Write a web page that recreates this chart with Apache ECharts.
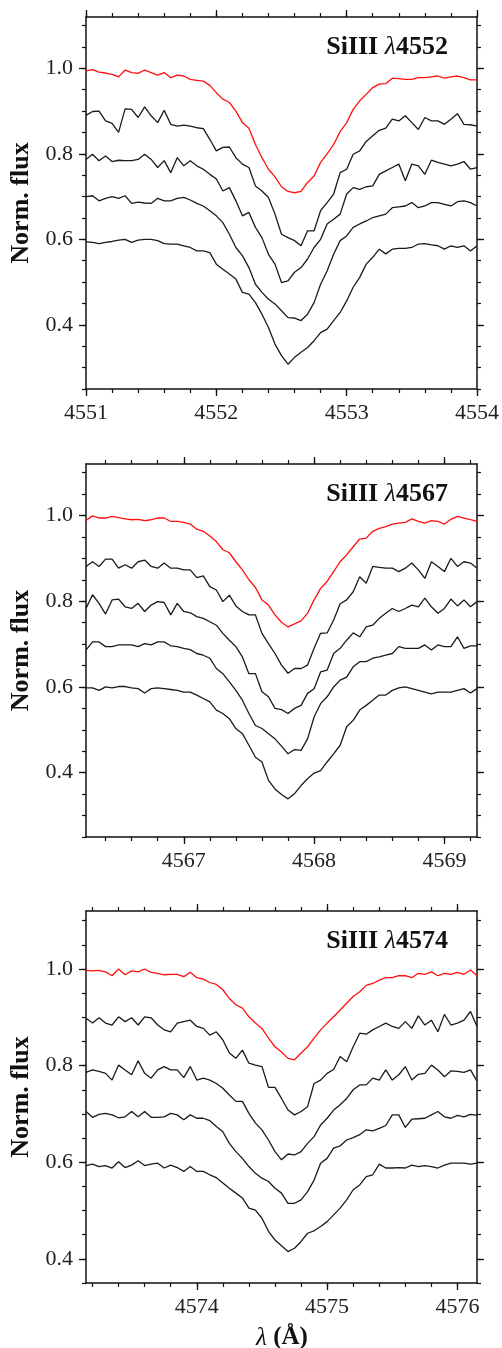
<!DOCTYPE html>
<html>
<head>
<meta charset="utf-8">
<script src="https://cdn.jsdelivr.net/npm/echarts@6/dist/echarts.min.js"></script>
<style>html,body{margin:0;padding:0;background:#fff}#c{width:502px;height:1348px}</style>
</head>
<body>
<div id="c"></div>
<script>
// ---- wavelength sampling (start, step) per panel ----
const lamStart1 = 4551.00, lamStart2 = 4566.25, lamStart3 = 4573.15, lamStep = 0.05;
const xRange1 = [4551.0, 4554.0], xRange2 = [4566.25, 4569.25], xRange3 = [4573.15, 4576.15];
const yRange1 = [0.25, 1.12], yRange2 = [0.25, 1.12], yRange3 = [0.35, 1.12];
const xTicks1 = [4551, 4552, 4553, 4554];
const xTicks2 = [4567, 4568, 4569];
const xTicks3 = [4574, 4575, 4576];
const yTicks = [0.4, 0.6, 0.8, 1.0];
const titles = ['4552', '4567', '4574'];

// ---- Panel 1: SiIII 4552 ----
const p1Red = [0.994,0.997,0.991,0.989,0.986,0.98,0.996,0.99,0.988,0.996,
  0.99,0.984,0.99,0.978,0.984,0.982,0.974,0.972,0.97,0.96,
  0.943,0.928,0.92,0.90,0.873,0.86,0.822,0.791,0.764,0.746,
  0.723,0.712,0.709,0.712,0.733,0.748,0.78,0.80,0.822,0.852,
  0.873,0.904,0.924,0.939,0.955,0.963,0.964,0.977,0.976,0.974,
  0.974,0.978,0.978,0.98,0.982,0.977,0.98,0.982,0.978,0.973,0.973];
const p1B1 = [0.89,0.899,0.90,0.877,0.871,0.85,0.905,0.904,0.885,0.91,
  0.889,0.873,0.902,0.869,0.865,0.867,0.865,0.861,0.859,0.834,
  0.807,0.815,0.816,0.791,0.776,0.768,0.725,0.713,0.698,0.659,
  0.612,0.604,0.597,0.585,0.62,0.62,0.667,0.686,0.706,0.756,
  0.764,0.799,0.807,0.829,0.842,0.855,0.86,0.881,0.877,0.889,
  0.873,0.857,0.885,0.877,0.877,0.869,0.881,0.894,0.869,0.868,0.865];
const p1B2 = [0.787,0.799,0.784,0.795,0.782,0.785,0.784,0.784,0.787,0.799,
  0.787,0.768,0.784,0.756,0.791,0.772,0.784,0.772,0.764,0.752,
  0.741,0.713,0.721,0.69,0.655,0.663,0.628,0.604,0.565,0.542,
  0.499,0.503,0.523,0.534,0.554,0.581,0.60,0.636,0.647,0.659,
  0.706,0.721,0.717,0.723,0.725,0.752,0.76,0.768,0.776,0.737,
  0.776,0.772,0.752,0.785,0.78,0.776,0.772,0.776,0.782,0.764,0.768];
const p1B3 = [0.70,0.702,0.69,0.696,0.70,0.696,0.702,0.684,0.687,0.685,
  0.684,0.696,0.69,0.69,0.696,0.698,0.692,0.684,0.678,0.667,
  0.655,0.639,0.612,0.581,0.562,0.534,0.495,0.476,0.46,0.449,
  0.433,0.417,0.416,0.41,0.425,0.452,0.495,0.526,0.565,0.597,
  0.608,0.628,0.636,0.643,0.651,0.655,0.659,0.674,0.676,0.678,
  0.686,0.674,0.678,0.686,0.686,0.682,0.678,0.688,0.69,0.686,0.678];
const p1B4 = [0.594,0.593,0.59,0.593,0.595,0.598,0.60,0.593,0.598,0.60,
  0.60,0.597,0.59,0.589,0.589,0.585,0.581,0.573,0.573,0.569,
  0.542,0.53,0.519,0.507,0.476,0.472,0.452,0.425,0.394,0.355,
  0.328,0.308,0.324,0.336,0.347,0.363,0.382,0.39,0.41,0.429,
  0.456,0.488,0.511,0.542,0.558,0.577,0.566,0.577,0.579,0.579,
  0.581,0.589,0.59,0.587,0.585,0.577,0.585,0.581,0.585,0.573,0.585];

// ---- Panel 2: SiIII 4567 ----
const p2Red = [0.988,0.999,0.994,0.994,0.998,0.995,0.992,0.99,0.991,0.988,
  0.99,0.994,0.994,0.986,0.986,0.984,0.98,0.968,0.963,0.952,
  0.939,0.92,0.913,0.892,0.873,0.85,0.832,0.803,0.791,0.768,
  0.751,0.74,0.747,0.754,0.772,0.803,0.83,0.846,0.869,0.892,
  0.908,0.927,0.945,0.947,0.963,0.97,0.974,0.98,0.982,0.984,
  0.992,0.986,0.982,0.988,0.986,0.98,0.991,0.998,0.994,0.99,0.986];
const p2B1 = [0.881,0.892,0.881,0.898,0.898,0.877,0.885,0.877,0.892,0.896,
  0.881,0.877,0.889,0.877,0.877,0.873,0.873,0.855,0.859,0.834,
  0.826,0.799,0.814,0.789,0.776,0.768,0.768,0.725,0.701,0.678,
  0.651,0.632,0.643,0.643,0.651,0.69,0.725,0.726,0.756,0.794,
  0.803,0.822,0.857,0.842,0.881,0.879,0.877,0.877,0.869,0.877,
  0.889,0.873,0.853,0.892,0.881,0.869,0.90,0.881,0.892,0.889,0.877];
const p2B2 = [0.783,0.815,0.795,0.77,0.803,0.805,0.787,0.783,0.795,0.776,
  0.791,0.799,0.797,0.768,0.795,0.776,0.773,0.764,0.76,0.752,
  0.744,0.725,0.709,0.694,0.67,0.631,0.631,0.589,0.577,0.55,
  0.547,0.538,0.55,0.557,0.585,0.596,0.635,0.639,0.678,0.69,
  0.709,0.726,0.717,0.74,0.744,0.76,0.772,0.783,0.776,0.783,
  0.791,0.787,0.807,0.787,0.772,0.783,0.805,0.789,0.803,0.787,0.799];
const p2B3 = [0.686,0.705,0.705,0.694,0.694,0.698,0.698,0.698,0.694,0.701,
  0.698,0.705,0.705,0.696,0.694,0.69,0.687,0.678,0.674,0.667,
  0.643,0.631,0.612,0.592,0.569,0.538,0.51,0.503,0.491,0.479,
  0.462,0.444,0.454,0.452,0.479,0.53,0.561,0.577,0.60,0.616,
  0.623,0.647,0.659,0.659,0.667,0.67,0.674,0.678,0.694,0.69,
  0.69,0.69,0.698,0.686,0.698,0.694,0.694,0.717,0.69,0.696,0.696];
const p2B4 = [0.598,0.598,0.592,0.60,0.598,0.601,0.601,0.598,0.596,0.586,
  0.596,0.598,0.596,0.594,0.592,0.588,0.588,0.581,0.573,0.565,
  0.546,0.538,0.526,0.503,0.491,0.464,0.436,0.425,0.382,0.362,
  0.349,0.339,0.351,0.37,0.386,0.399,0.405,0.425,0.444,0.464,
  0.507,0.522,0.546,0.557,0.569,0.581,0.581,0.592,0.598,0.60,
  0.596,0.592,0.588,0.584,0.588,0.588,0.588,0.592,0.596,0.586,0.596];

// ---- Panel 3: SiIII 4574 ----
const p3Red = [0.997,0.996,0.997,0.994,0.986,1.0,0.988,0.996,0.994,1.0,
  0.993,0.991,0.988,0.989,0.989,0.984,0.993,0.982,0.979,0.972,
  0.968,0.957,0.939,0.926,0.919,0.901,0.888,0.877,0.857,0.839,
  0.828,0.815,0.812,0.826,0.839,0.857,0.874,0.888,0.901,0.915,
  0.929,0.943,0.953,0.966,0.97,0.977,0.982,0.982,0.986,0.986,
  0.982,0.991,0.989,0.994,0.986,0.991,0.989,0.993,0.989,0.998,0.986];
const p3B1 = [0.898,0.888,0.899,0.888,0.884,0.901,0.891,0.899,0.884,0.901,
  0.899,0.884,0.874,0.87,0.888,0.891,0.894,0.881,0.877,0.863,
  0.87,0.853,0.826,0.815,0.832,0.805,0.801,0.798,0.755,0.755,
  0.732,0.708,0.698,0.705,0.715,0.763,0.77,0.784,0.792,0.819,
  0.808,0.839,0.867,0.865,0.874,0.881,0.888,0.881,0.877,0.891,
  0.877,0.903,0.884,0.894,0.87,0.906,0.884,0.888,0.894,0.912,0.881];
const p3B2 = [0.786,0.791,0.788,0.784,0.77,0.801,0.791,0.781,0.81,0.784,
  0.774,0.791,0.798,0.791,0.791,0.775,0.798,0.77,0.774,0.77,
  0.763,0.753,0.739,0.726,0.726,0.701,0.681,0.667,0.646,0.622,
  0.605,0.617,0.615,0.622,0.639,0.653,0.677,0.691,0.708,0.719,
  0.732,0.75,0.76,0.76,0.774,0.77,0.791,0.77,0.781,0.798,
  0.77,0.782,0.784,0.801,0.791,0.777,0.789,0.788,0.786,0.791,0.768];
const p3B3 = [0.705,0.693,0.699,0.701,0.698,0.692,0.694,0.705,0.694,0.705,
  0.693,0.693,0.694,0.701,0.698,0.688,0.698,0.691,0.691,0.686,
  0.674,0.663,0.639,0.622,0.608,0.591,0.577,0.567,0.56,0.546,
  0.536,0.515,0.515,0.522,0.539,0.563,0.598,0.608,0.629,0.634,
  0.646,0.651,0.657,0.667,0.665,0.67,0.676,0.698,0.698,0.672,
  0.689,0.69,0.691,0.698,0.705,0.694,0.691,0.697,0.694,0.699,0.697];
const p3B4 = [0.593,0.596,0.591,0.593,0.588,0.601,0.589,0.594,0.603,0.593,
  0.596,0.598,0.588,0.594,0.589,0.581,0.591,0.581,0.581,0.574,
  0.568,0.557,0.546,0.536,0.526,0.505,0.501,0.484,0.457,0.439,
  0.427,0.415,0.422,0.436,0.453,0.458,0.467,0.477,0.491,0.505,
  0.522,0.543,0.553,0.57,0.574,0.596,0.588,0.588,0.589,0.588,
  0.594,0.591,0.593,0.591,0.588,0.594,0.598,0.598,0.598,0.596,0.598];

// ---------------- build chart ----------------
const panels = [
  {start: lamStart1, xr: xRange1, yr: yRange1, xt: xTicks1, series: [p1Red, p1B1, p1B2, p1B3, p1B4], top: 17, height: 372},
  {start: lamStart2, xr: xRange2, yr: yRange2, xt: xTicks2, series: [p2Red, p2B1, p2B2, p2B3, p2B4], top: 464, height: 373},
  {start: lamStart3, xr: xRange3, yr: yRange3, xt: xTicks3, series: [p3Red, p3B1, p3B2, p3B3, p3B4], top: 911, height: 372}
];

function minorTicks(lo, hi, step) {
  const out = [];
  const n0 = Math.ceil(lo / step - 1e-6), n1 = Math.floor(hi / step + 1e-6);
  for (let n = n0; n <= n1; n++) out.push(+(n * step).toFixed(4));
  return out;
}

const FONT = 'Liberation Serif';
const AX = '#111';
const grids = [], xAxes = [], yAxes = [], series = [], graphics = [];

panels.forEach((p, i) => {
  grids.push({left: 86, width: 391, top: p.top, height: p.height, containLabel: false});
  const xMinor = minorTicks(p.xr[0], p.xr[1], 0.2);
  const yMinor = minorTicks(p.yr[0], p.yr[1], 0.05);
  const baseX = {type: 'value', gridIndex: i, min: p.xr[0], max: p.xr[1], splitLine: {show: false}};
  const baseY = {type: 'value', gridIndex: i, min: p.yr[0], max: p.yr[1], splitLine: {show: false}};
  const line = {show: true, onZero: false, lineStyle: {color: AX, width: 1.5}};
  const noLine = {show: false};
  // bottom major with labels
  xAxes.push(Object.assign({}, baseX, {position: 'bottom', axisLine: line,
    axisTick: {show: true, inside: false, length: 7, customValues: p.xt, lineStyle: {color: AX, width: 1.3}},
    axisLabel: {show: true, customValues: p.xt, margin: 13, fontFamily: FONT, fontSize: 22, color: '#222',
      showMinLabel: true, showMaxLabel: true, formatter: v => String(Math.round(v))}}));
  // bottom minor
  xAxes.push(Object.assign({}, baseX, {position: 'bottom', axisLine: noLine,
    axisTick: {show: true, inside: false, length: 4, customValues: xMinor, lineStyle: {color: AX, width: 1.2}},
    axisLabel: {show: false}}));
  // top major
  xAxes.push(Object.assign({}, baseX, {position: 'top', axisLine: line,
    axisTick: {show: true, inside: false, length: 7, customValues: p.xt, lineStyle: {color: AX, width: 1.3}},
    axisLabel: {show: false}}));
  // top minor
  xAxes.push(Object.assign({}, baseX, {position: 'top', axisLine: noLine,
    axisTick: {show: true, inside: false, length: 4, customValues: xMinor, lineStyle: {color: AX, width: 1.2}},
    axisLabel: {show: false}}));
  // left major with labels
  yAxes.push(Object.assign({}, baseY, {position: 'left', axisLine: line,
    axisTick: {show: true, inside: false, length: 7, customValues: yTicks, lineStyle: {color: AX, width: 1.3}},
    axisLabel: {show: true, customValues: yTicks, margin: 13, fontFamily: FONT, fontSize: 22, color: '#222',
      formatter: v => v.toFixed(1)}}));
  yAxes.push(Object.assign({}, baseY, {position: 'left', axisLine: noLine,
    axisTick: {show: true, inside: false, length: 4, customValues: yMinor, lineStyle: {color: AX, width: 1.2}},
    axisLabel: {show: false}}));
  yAxes.push(Object.assign({}, baseY, {position: 'right', axisLine: line,
    axisTick: {show: true, inside: false, length: 7, customValues: yTicks, lineStyle: {color: AX, width: 1.3}},
    axisLabel: {show: false}}));
  yAxes.push(Object.assign({}, baseY, {position: 'right', axisLine: noLine,
    axisTick: {show: true, inside: false, length: 4, customValues: yMinor, lineStyle: {color: AX, width: 1.2}},
    axisLabel: {show: false}}));

  p.series.forEach((vals, j) => {
    series.push({
      type: 'line', xAxisIndex: i * 4, yAxisIndex: i * 4,
      data: vals.map((v, k) => [p.start + k * lamStep, v]),
      showSymbol: false, symbol: 'none', smooth: false,
      lineStyle: {color: j === 0 ? '#ff1010' : '#1a1a1a', width: 1.3},
      z: j === 0 ? 3 : 2, animation: false
    });
  });

  // panel title
  graphics.push({type: 'text', x: 448, y: p.top + 30, z: 10,
    style: {text: '{b|SiIII }{l|λ}{b|' + titles[i] + '}', align: 'right', verticalAlign: 'middle',
      rich: {b: {fontFamily: FONT, fontWeight: 'bold', fontSize: 26, fill: '#111'},
             l: {fontFamily: FONT, fontStyle: 'italic', fontSize: 26, fill: '#111'}}}});
  // y-axis name
  graphics.push({type: 'text', x: 21, y: p.top + p.height / 2, rotation: Math.PI / 2, z: 10,
    style: {text: 'Norm. flux', align: 'center', verticalAlign: 'middle',
      font: 'bold 26px "Liberation Serif"', fill: '#111'}});
});

graphics.push({type: 'text', x: 282, y: 1338, z: 10,
  style: {text: '{l|λ}{b| (Å)}', align: 'center', verticalAlign: 'middle',
    rich: {b: {fontFamily: FONT, fontWeight: 'bold', fontSize: 25, fill: '#111'},
           l: {fontFamily: FONT, fontStyle: 'italic', fontSize: 25, fill: '#111'}}}});

const chart = echarts.init(document.getElementById('c'), null, {renderer: 'canvas'});
chart.setOption({
  animation: false,
  backgroundColor: '#fff',
  grid: grids, xAxis: xAxes, yAxis: yAxes, series: series, graphic: graphics
});
</script>
</body>
</html>
